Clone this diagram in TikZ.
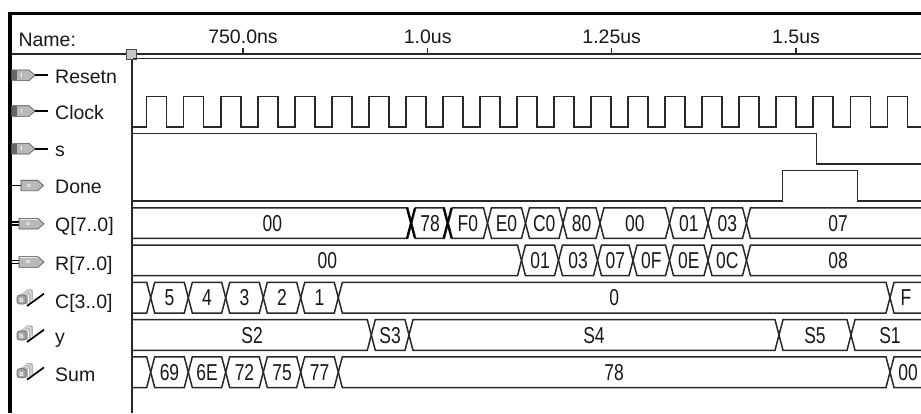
\documentclass[tikz,border=0pt]{standalone}
\usepackage{fontspec}
\setmainfont{Liberation Sans}
\newfontfamily\valfont[FakeStretch=0.76]{Liberation Sans}
\definecolor{wcol}{RGB}{40,40,40}
\newcommand\wvfirst[4]{%
  \draw[wave] (133,#2) -- ({#1-4},#2) -- (#1,{(#2+#3)/2}) -- ({#1-4},#3) -- (133,#3);
  \node[val] at ({(133+#1)/2},{(#2+#3)/2+8.2}) {#4};}
\newcommand\wvmid[5]{%
  \draw[wave] (#1,{(#3+#4)/2}) -- ({#1+4},#3) -- ({#2-4},#3) -- (#2,{(#3+#4)/2}) -- ({#2-4},#4) -- ({#1+4},#4) -- cycle;
  \node[val] at ({(#1+#2)/2},{(#3+#4)/2+8.2}) {#5};}
\newcommand\wvlast[5]{%
  \draw[wave] (921,#2) -- ({#1+4},#2) -- (#1,{(#2+#3)/2}) -- ({#1+4},#3) -- (921,#3);
  \node[val] at (#5,{(#2+#3)/2+8.2}) {#4};}
\newcommand\icin[1]{%
  \filldraw[fill=gray!55, draw=black!70, line width=0.6pt] (11.5,{#1-5.3}) -- (29,{#1-5.3}) -- (35,#1) -- (29,{#1+5.3}) -- (11.5,{#1+5.3}) -- cycle;
  \fill[black!60] (11.8,{#1-5}) rectangle (17,{#1+5});
  \node[icl] at (21.5,#1) {I};
  \draw[line width=1.9pt] (35,#1) -- (48,#1);}
\newcommand\icout[1]{%
  \draw[line width=1.9pt] (10,#1) -- (21,#1);
  \filldraw[fill=gray!55, draw=black!70, line width=0.6pt] (21,{#1-5.3}) -- (37.5,{#1-5.3}) -- (43.5,#1) -- (37.5,{#1+5.3}) -- (21,{#1+5.3}) -- cycle;
  \node[icl] at (29,#1) {o};}
\newcommand\icbus[1]{%
  \draw[line width=1.3pt] (10,{#1-1.8}) -- (20,{#1-1.8});
  \draw[line width=1.3pt] (10,{#1+1.4}) -- (20,{#1+1.4});
  \filldraw[fill=gray!55, draw=black!70, line width=0.6pt] (19,{#1-5.3}) -- (38,{#1-5.3}) -- (44,#1) -- (38,{#1+5.3}) -- (19,{#1+5.3}) -- cycle;
  \draw[gray!15, line width=0.8pt] (19.5,{#1-4.2}) -- (37.5,{#1-4.2});
  \node[icl] at (28,#1) {o};}
\newcommand\icbur[1]{%
  \filldraw[fill=gray!60, draw=white, line width=0.7pt, rounded corners=2.5pt] (24.5,{#1+0}) -- (24.5,{#1-11}) -- (33.5,{#1-11}) -- (33.5,{#1+0});
  \filldraw[fill=gray!60, draw=white, line width=0.7pt, rounded corners=2.5pt] (22,{#1+2}) -- (22,{#1-9}) -- (31,{#1-9}) -- (31,{#1+2});
  \filldraw[fill=gray!60, draw=white, line width=0.7pt, rounded corners=2.5pt] (19.5,{#1+4}) -- (19.5,{#1-7}) -- (28.5,{#1-7}) -- (28.5,{#1+4});
  \filldraw[fill=gray!70, draw=black!60, line width=0.6pt, rounded corners=2.5pt] (17,{#1+4}) -- (17,{#1-5}) -- (26,{#1-5}) -- (26,{#1+4}) -- cycle;
  \node[icl] at (21.5,{#1+0.5}) {B};
  \draw[line width=1.7pt] (27,{#1+6}) -- (44,{#1-6.3});}
\begin{document}
\begin{tikzpicture}[x=1pt,y=-1pt,
  wave/.style={line width=1.5pt, draw=wcol, line join=miter},
  val/.style={font=\valfont\fontsize{23}{23}\selectfont, text=black!90, inner sep=0pt, anchor=base},
  sig/.style={font=\fontsize{19.5}{20}\selectfont, inner sep=0pt, anchor=base west, text=black!90},
  tlab/.style={font=\fontsize{19.5}{20}\selectfont, inner sep=0pt, anchor=base, text=black!90},
  icl/.style={font=\fontsize{6}{6}\selectfont\bfseries, text=white, inner sep=0pt}]
\useasboundingbox (0,0) rectangle (921,413);
\fill[white] (0,0) rectangle (921,413);
% frame
\draw[line width=3.3pt] (7.7,13.3) -- (921,13.3);
\draw[line width=4pt] (9.7,11.65) -- (9.7,413);
\draw[line width=1.3pt, draw=wcol] (11.7,54) -- (921,54);
\draw[line width=2pt, draw=wcol] (131.7,54) -- (131.7,413);
% time axis
\node[sig] (name) at (18.3,46.5) {Name:};
\draw[line width=1.2pt, draw=wcol] (243,48) -- (243,54);
\draw[line width=1.2pt, draw=wcol] (427.7,48) -- (427.7,54);
\draw[line width=1.2pt, draw=wcol] (611.7,48) -- (611.7,54);
\draw[line width=1.2pt, draw=wcol] (796,48) -- (796,54);
\node[tlab] (ta) at (243,43.3) {750.0ns};
\node[tlab] (tb) at (427.7,43.3) {1.0us};
\node[tlab] (tc) at (611.7,43.3) {1.25us};
\node[tlab] (td) at (796,43.3) {1.5us};
\filldraw[fill=gray!45, draw=black!70, line width=0.8pt] (126.7,49.3) rectangle (136.7,59.3);
% signal names and icons
\icin{75.3}  \node[sig] (nres) at (55,83.3) {Resetn};
\icin{111}   \node[sig] (nclk) at (55,119) {Clock};
\icin{148.7} \node[sig] (ns) at (55,156.7) {s};
\icout{185.5} \node[sig] (ndone) at (55,193.5) {Done};
\icbus{223.7} \node[sig] (nq) at (55,231.7) {Q[7..0]};
\icbus{262}   \node[sig] (nr) at (55,270) {R[7..0]};
\icbur{300}   \node[sig] (nc) at (55,308) {C[3..0]};
\icbur{336}   \node[sig] (ny) at (55,343) {y};
\icbur{373.7} \node[sig] (nsum) at (55,381.7) {Sum};
% Resetn
\draw[wave] (133,58.7) -- (921,58.7);
% Clock
\draw[wave] (133,127) foreach \k in {0,...,20} { -- ({146.7+37.03*\k},127) -- ++(0,-30.6) -- ++(20,0) -- ++(0,30.6) } -- (921,127);
% s
\draw[wave] (133,133.3) -- (816.7,133.3) -- (816.7,163.9) -- (921,163.9);
% Done
\draw[wave] (133,201.2) -- (782.3,201.2) -- (782.3,170.6) -- (857.3,170.6) -- (857.3,201.2) -- (921,201.2);
% Q
\wvfirst{411.7}{207.8}{238.4}{00}
\wvmid{411.7}{448.3}{207.8}{238.4}{78}
\wvmid{448.3}{487.5}{207.8}{238.4}{F0}
\wvmid{487.5}{525.5}{207.8}{238.4}{E0}
\wvmid{525.5}{563}{207.8}{238.4}{C0}
\wvmid{563}{600}{207.8}{238.4}{80}
\wvmid{600}{669.5}{207.8}{238.4}{00}
\wvmid{669.5}{708}{207.8}{238.4}{01}
\wvmid{708}{746.5}{207.8}{238.4}{03}
\wvlast{746.5}{207.8}{238.4}{07}{838}
\draw[line width=1.6pt] (406.7,207.8) -- (414.7,238.4) (406.7,238.4) -- (414.7,207.8);
\draw[line width=1.6pt] (443.3,207.8) -- (451.3,238.4) (443.3,238.4) -- (451.3,207.8);
% R
\wvfirst{521.5}{245.1}{275.7}{00}
\wvmid{521.5}{558.5}{245.1}{275.7}{01}
\wvmid{558.5}{597.5}{245.1}{275.7}{03}
\wvmid{597.5}{633}{245.1}{275.7}{07}
\wvmid{633}{669.5}{245.1}{275.7}{0F}
\wvmid{669.5}{708}{245.1}{275.7}{0E}
\wvmid{708}{746.5}{245.1}{275.7}{0C}
\wvlast{746.5}{245.1}{275.7}{08}{838}
% C
\wvfirst{150.7}{282.4}{313}{}
\wvmid{150.7}{188.3}{282.4}{313}{5}
\wvmid{188.3}{225.7}{282.4}{313}{4}
\wvmid{225.7}{263.3}{282.4}{313}{3}
\wvmid{263.3}{300.7}{282.4}{313}{2}
\wvmid{300.7}{338.3}{282.4}{313}{1}
\wvmid{338.3}{890}{282.4}{313}{0}
\wvlast{890}{282.4}{313}{F}{906}
% y
\wvfirst{371.3}{319.7}{350.3}{S2}
\wvmid{371.3}{409}{319.7}{350.3}{S3}
\wvmid{409}{779}{319.7}{350.3}{S4}
\wvmid{779}{851}{319.7}{350.3}{S5}
\wvlast{851}{319.7}{350.3}{S1}{890}
% Sum
\wvfirst{150.7}{356.9}{387.5}{}
\wvmid{150.7}{188.3}{356.9}{387.5}{69}
\wvmid{188.3}{225.7}{356.9}{387.5}{6E}
\wvmid{225.7}{263.3}{356.9}{387.5}{72}
\wvmid{263.3}{300.7}{356.9}{387.5}{75}
\wvmid{300.7}{338.3}{356.9}{387.5}{77}
\wvmid{338.3}{890}{356.9}{387.5}{78}
\wvlast{890}{356.9}{387.5}{00}{908}
\end{tikzpicture}
\end{document}
